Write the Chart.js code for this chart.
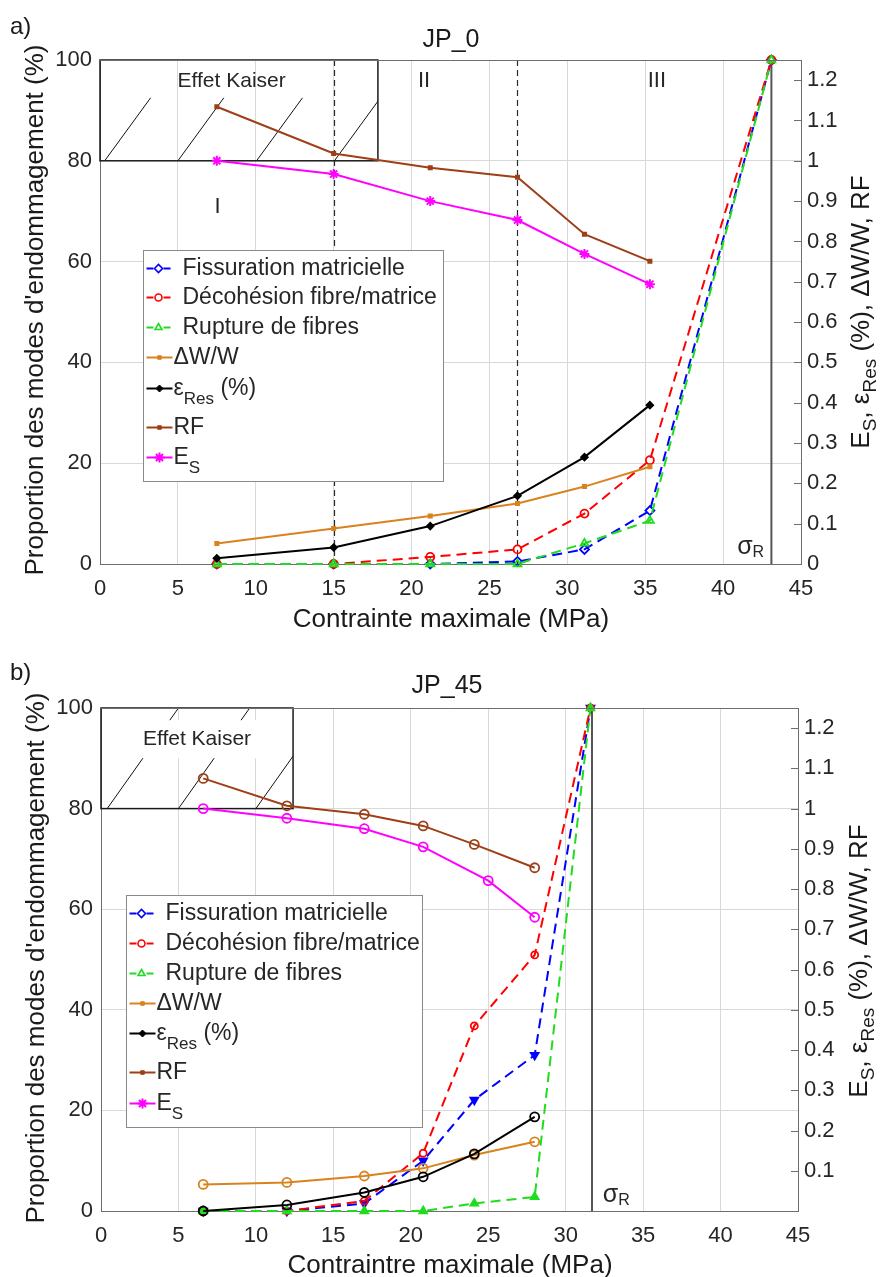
<!DOCTYPE html>
<html>
<head>
<meta charset="utf-8">
<title>JP_0 / JP_45</title>
<script src="https://cdn.jsdelivr.net/npm/chart.js@4/dist/chart.umd.min.js"></script>
<style>
	html, body { margin: 0; padding: 0; background: #ffffff; }
	.panel { position: absolute; left: 0; width: 887px; }
	#panelA { top: 0; height: 640px; }
	#panelB { top: 640px; height: 637px; }
</style>
</head>
<body>
<div class="panel" id="panelA"><canvas id="chartA"></canvas></div>
<div class="panel" id="panelB"><canvas id="chartB"></canvas></div>
<script>
(function () {
	'use strict';

	// ---- data: a) JP_0 ----
	var aStress = [7.5, 15, 21.2, 26.8, 31.1, 35.3];
	var aStressModes = [7.5, 15, 21.2, 26.8, 31.1, 35.3, 43.1];
	var aFissuration = [0, 0, 0, 0.5, 2.9, 10.6, 100];
	var aDecohesion = [0, 0, 1.4, 2.9, 10.0, 20.6, 100];
	var aRupture = [0, 0, 0, 0, 4.1, 8.6, 100];
	var aDeltaW = [0.051, 0.088, 0.119, 0.150, 0.192, 0.241];
	var aEpsRes = [0.014, 0.041, 0.094, 0.169, 0.265, 0.394];
	var aRF = [1.134, 1.018, 0.983, 0.959, 0.818, 0.751];
	var aES = [1.0, 0.967, 0.900, 0.853, 0.769, 0.694];
	var aSigmaR = 43.1;
	var aPhaseLimits = [15, 26.8];
	var aRightTicks = [0, 0.1, 0.2, 0.3, 0.4, 0.5, 0.6, 0.7, 0.8, 0.9, 1, 1.1, 1.2];

	// ---- data: b) JP_45 ----
	var bStress = [6.6, 12, 17, 20.8, 24.1, 28];
	var bStressES = [6.6, 12, 17, 20.8, 25.0, 28];
	var bStressModes = [6.6, 12, 17, 20.8, 24.1, 28, 31.6];
	var bFissuration = [0, 0, 1.5, 10, 22.1, 31.0, 100];
	var bDecohesion = [0, 0, 2.0, 11.5, 36.8, 50.9, 100];
	var bRupture = [0, 0, 0, 0, 1.5, 2.8, 100];
	var bDeltaW = [0.066, 0.071, 0.087, 0.106, 0.139, 0.172];
	var bEpsRes = [0, 0.015, 0.046, 0.085, 0.142, 0.234];
	var bRF = [1.075, 1.007, 0.986, 0.957, 0.911, 0.853];
	var bES = [1.0, 0.976, 0.950, 0.905, 0.821, 0.730];
	var bSigmaR = 31.7;
	var bRightTicks = [0.1, 0.2, 0.3, 0.4, 0.5, 0.6, 0.7, 0.8, 0.9, 1, 1.1, 1.2];

	// ---- shared axes ----
	var xTicks = [0, 5, 10, 15, 20, 25, 30, 35, 40, 45];
	var leftTicks = [0, 20, 40, 60, 80, 100];

	var FONT = '"Liberation Sans", Arial, sans-serif';
	var BLUE = '#0000ff';
	var RED = '#ff0000';
	var GREEN = '#1fdc1f';
	var ORANGE = '#d9821e';
	var BLACK = '#000000';
	var BROWN = '#9e3f17';
	var MAGENTA = '#ff00ff';
	var GRID = '#d9d9d9';
	var AXIS = '#6e6e6e';
	var TEXT = '#262626';
	var NONE = 'rgba(0,0,0,0)';

	Chart.defaults.font.family = FONT;
	Chart.defaults.color = TEXT;

	function pts(xs, ys) {
		return xs.map(function (x, i) {
			return { x: x, y: ys[i] };
		});
	}

	function dashed(label, xs, ys, color, style) {
		return Object.assign({
			label: label,
			data: pts(xs, ys),
			yAxisID: 'y',
			borderColor: color,
			borderWidth: 2,
			borderDash: [10, 6],
			pointBorderColor: color,
			pointBackgroundColor: NONE,
			pointBorderWidth: 1.8,
			pointRadius: 4.5,
			clip: 10,
		}, style);
	}

	function solid(label, xs, ys, color, style) {
		return Object.assign({
			label: label,
			data: pts(xs, ys),
			yAxisID: 'y2',
			borderColor: color,
			borderWidth: 2,
			pointBorderColor: color,
			pointBackgroundColor: color,
			pointBorderWidth: 1.5,
			pointRadius: 2.5,
			clip: 10,
		}, style);
	}

	var legendItems = [
		{ parts: [{ t: 'Fissuration matricielle' }], color: BLUE, dashed: true, marker: { pointStyle: 'rectRot', radius: 4, borderWidth: 1.6 }, fill: '#ffffff' },
		{ parts: [{ t: 'Décohésion fibre/matrice' }], color: RED, dashed: true, marker: { pointStyle: 'circle', radius: 3.5, borderWidth: 1.6 }, fill: '#ffffff' },
		{ parts: [{ t: 'Rupture de fibres' }], color: GREEN, dashed: true, marker: { pointStyle: 'triangle', radius: 4, borderWidth: 1.6 }, fill: '#ffffff' },
		{ parts: [{ t: 'ΔW/W' }], color: ORANGE, marker: { pointStyle: 'rect', radius: 2.5, borderWidth: 1 } },
		{ parts: [{ t: 'ε' }, { t: 'Res', sub: true }, { t: ' (%)' }], color: BLACK, marker: { pointStyle: 'rectRot', radius: 3.5, borderWidth: 1 } },
		{ parts: [{ t: 'RF' }], color: BROWN, marker: { pointStyle: 'rect', radius: 2.5, borderWidth: 1 } },
		{ parts: [{ t: 'E' }, { t: 'S', sub: true }], color: MAGENTA, marker: { pointStyle: 'star', radius: 5, borderWidth: 2 } },
	];

	function drawParts(ctx, parts, x, y, size, subSize, subShift, align) {
		var total = 0;
		parts.forEach(function (p) {
			ctx.font = (p.sub ? subSize : size) + 'px ' + FONT;
			p.w = ctx.measureText(p.t).width;
			total += p.w;
		});
		var cx = align === 'center' ? x - total / 2 : x;
		ctx.textAlign = 'left';
		ctx.textBaseline = 'middle';
		parts.forEach(function (p) {
			ctx.font = (p.sub ? subSize : size) + 'px ' + FONT;
			ctx.fillText(p.t, cx, p.sub ? y + subShift : y);
			cx += p.w;
		});
		return total;
	}

	function text(ctx, str, x, y, size, align) {
		ctx.font = size + 'px ' + FONT;
		ctx.textAlign = align || 'center';
		ctx.textBaseline = 'middle';
		ctx.fillText(str, x, y);
	}

	function decorPlugin(cfg) {
		return {
			id: 'decor',
			beforeDatasetsDraw: function (chart) {
				var ctx = chart.ctx;
				var xs = chart.scales.x;
				var ys = chart.scales.y;
				var area = chart.chartArea;
				var k = cfg.kaiser;

				ctx.save();
				// phase limits
				ctx.strokeStyle = '#2a2a2a';
				ctx.lineWidth = 1.2;
				ctx.setLineDash([6, 4]);
				(cfg.phases || []).forEach(function (v) {
					var px = Math.round(xs.getPixelForValue(v)) + 0.5;
					ctx.beginPath();
					ctx.moveTo(px, area.top);
					ctx.lineTo(px, area.bottom);
					ctx.stroke();
				});
				ctx.setLineDash([]);

				// sigma R
				var sx = xs.getPixelForValue(cfg.sigmaR);
				ctx.strokeStyle = '#555555';
				ctx.lineWidth = 2;
				ctx.beginPath();
				ctx.moveTo(sx, area.top);
				ctx.lineTo(sx, area.bottom);
				ctx.stroke();

				// Kaiser box with hatching
				var bx0 = xs.getPixelForValue(k.x0);
				var bx1 = xs.getPixelForValue(k.x1);
				var by0 = ys.getPixelForValue(k.y1);
				var by1 = ys.getPixelForValue(k.y0);
				ctx.save();
				ctx.beginPath();
				ctx.rect(bx0, by0, bx1 - bx0, by1 - by0);
				ctx.clip();
				ctx.strokeStyle = '#111111';
				ctx.lineWidth = 1;
				k.hatch.forEach(function (h) {
					ctx.beginPath();
					ctx.moveTo(xs.getPixelForValue(h), ys.getPixelForValue(k.y0));
					ctx.lineTo(xs.getPixelForValue(h + k.hatchDx), ys.getPixelForValue(k.hatchTop));
					ctx.stroke();
				});
				ctx.restore();

				var tx = xs.getPixelForValue(k.textX);
				var ty = ys.getPixelForValue(k.textY);
				ctx.font = k.textSize + 'px ' + FONT;
				if (k.textBg) {
					var tw = ctx.measureText(k.text).width;
					ctx.fillStyle = '#ffffff';
					ctx.fillRect(tx - tw / 2 - 6, ty - 19, tw + 12, 38);
				}
				ctx.strokeStyle = '#1a1a1a';
				ctx.lineWidth = 1.5;
				ctx.strokeRect(bx0, by0, bx1 - bx0, by1 - by0);
				ctx.fillStyle = TEXT;
				text(ctx, k.text, tx, ty, k.textSize);

				(cfg.roman || []).forEach(function (r) {
					text(ctx, r.t, xs.getPixelForValue(r.x), ys.getPixelForValue(r.y), 22);
				});
				ctx.restore();
			},
			afterDatasetsDraw: function (chart) {
				var ctx = chart.ctx;
				var xs = chart.scales.x;
				var ys = chart.scales.y;
				var lg = cfg.legend;

				ctx.save();
				// sigma R label
				ctx.fillStyle = TEXT;
				drawParts(ctx, [{ t: 'σ' }, { t: 'R', sub: true }],
					xs.getPixelForValue(cfg.sigmaLabel[0]), ys.getPixelForValue(cfg.sigmaLabel[1]),
					25, 16, 6, 'left');

				// legend
				var lx = Math.round(xs.getPixelForValue(lg.x)) + 0.5;
				var ly = Math.round(ys.getPixelForValue(lg.y)) + 0.5;
				ctx.fillStyle = '#ffffff';
				ctx.fillRect(lx, ly, lg.w, lg.h);
				ctx.strokeStyle = '#8a8a8a';
				ctx.lineWidth = 1;
				ctx.strokeRect(lx, ly, lg.w, lg.h);

				legendItems.forEach(function (item, i) {
					var ry = ly + lg.rows[i];
					ctx.strokeStyle = item.color;
					ctx.lineWidth = 2;
					ctx.beginPath();
					if (item.dashed) {
						ctx.moveTo(lx + 3, ry);
						ctx.lineTo(lx + 10, ry);
						ctx.moveTo(lx + 20, ry);
						ctx.lineTo(lx + 27, ry);
					} else {
						ctx.moveTo(lx + 3, ry);
						ctx.lineTo(lx + 29, ry);
					}
					ctx.stroke();
					ctx.fillStyle = item.fill || item.color;
					ctx.lineWidth = item.marker.borderWidth;
					Chart.helpers.drawPoint(ctx, Object.assign({ rotation: 0 }, item.marker), lx + (item.dashed ? 15 : 16), ry);
					ctx.fillStyle = TEXT;
					drawParts(ctx, item.parts, lx + (item.dashed ? 39 : 30), ry, 23, 17, 11, 'left');
				});
				ctx.restore();
			},
			afterDraw: function (chart) {
				var ctx = chart.ctx;
				var area = chart.chartArea;
				var y2 = chart.scales.y2;

				ctx.save();
				// top frame + right inner ticks
				ctx.strokeStyle = AXIS;
				ctx.lineWidth = 1;
				ctx.beginPath();
				ctx.moveTo(area.left, Math.round(area.top) + 0.5);
				ctx.lineTo(area.right, Math.round(area.top) + 0.5);
				y2.ticks.forEach(function (t) {
					var py = Math.round(y2.getPixelForValue(t.value)) + 0.5;
					ctx.moveTo(area.right - 7, py);
					ctx.lineTo(area.right, py);
				});
				ctx.stroke();

				ctx.fillStyle = '#1a1a1a';
				text(ctx, cfg.panel, 10, cfg.panelY, 24, 'left');
				text(ctx, cfg.title, cfg.titlePos[0], cfg.titlePos[1], 25);
				text(ctx, cfg.xTitle, cfg.xTitlePos[0], cfg.xTitlePos[1], 26);

				ctx.save();
				ctx.translate(cfg.yTitlePos[0], cfg.yTitlePos[1]);
				ctx.rotate(-Math.PI / 2);
				text(ctx, 'Proportion des modes d\'endommagement (%)', 0, 0, 26);
				ctx.restore();

				ctx.save();
				ctx.translate(cfg.y2TitlePos[0], cfg.y2TitlePos[1]);
				ctx.rotate(-Math.PI / 2);
				drawParts(ctx, [
					{ t: 'E' }, { t: 'S', sub: true }, { t: ', ' },
					{ t: 'ε' }, { t: 'Res', sub: true }, { t: ' (%), ΔW/W, RF' },
				], 0, 0, 26, 19, 9, 'center');
				ctx.restore();
				ctx.restore();
			},
		};
	}

	function makeChart(cfg) {
		var datasets = cfg.datasets.map(function (d, i) {
			d.order = -i;
			return d;
		});

		return new Chart(document.getElementById(cfg.canvas), {
			type: 'line',
			data: { datasets: datasets },
			options: {
				responsive: true,
				maintainAspectRatio: false,
				animation: false,
				events: [],
				layout: { padding: { top: cfg.padTop, left: 0, right: 0, bottom: 0 } },
				plugins: {
					legend: { display: false },
					tooltip: { enabled: false },
				},
				scales: {
					x: {
						type: 'linear',
						min: 0,
						max: 45,
						afterBuildTicks: function (s) {
							s.ticks = xTicks.map(function (v) { return { value: v }; });
						},
						afterFit: function (s) {
							s.height = cfg.xHeight;
						},
						grid: { color: GRID, drawTicks: false },
						border: { color: AXIS },
						ticks: { autoSkip: false, maxRotation: 0, padding: 12, color: TEXT, font: { size: 22 } },
					},
					y: {
						position: 'left',
						min: 0,
						max: 100,
						afterBuildTicks: function (s) {
							s.ticks = leftTicks.map(function (v) { return { value: v }; });
						},
						afterFit: function (s) {
							s.width = cfg.leftWidth;
						},
						grid: { color: GRID, drawTicks: false },
						border: { color: AXIS },
						ticks: { padding: 8, color: TEXT, font: { size: 22 } },
					},
					y2: {
						position: 'right',
						min: 0,
						max: 1.25,
						afterBuildTicks: function (s) {
							s.ticks = cfg.rightTicks.map(function (v) { return { value: v }; });
						},
						afterFit: function (s) {
							s.width = cfg.rightWidth;
						},
						grid: { drawOnChartArea: false, drawTicks: false },
						border: { color: AXIS },
						ticks: {
							padding: 6,
							color: TEXT,
							font: { size: 22 },
							callback: function (v) {
								return String(Math.round(v * 10) / 10);
							},
						},
					},
				},
			},
			plugins: [decorPlugin(cfg)],
		});
	}

	makeChart({
		canvas: 'chartA',
		padTop: 60,
		leftWidth: 100,
		rightWidth: 86,
		xHeight: 76,
		rightTicks: aRightTicks,
		panel: 'a)',
		panelY: 27,
		title: 'JP_0',
		titlePos: [451, 40],
		xTitle: 'Contrainte maximale (MPa)',
		xTitlePos: [451, 620],
		yTitlePos: [36, 310],
		y2TitlePos: [862, 312],
		phases: aPhaseLimits,
		sigmaR: aSigmaR,
		sigmaLabel: [40.9, 3.4],
		kaiser: {
			x0: 0, x1: 17.84, y0: 80, y1: 100,
			hatch: [0.3, 5.0, 10.05, 15.05], hatchDx: 2.95, hatchTop: 92.5,
			text: 'Effet Kaiser', textX: 8.45, textY: 95.8, textSize: 21, textBg: false,
		},
		roman: [
			{ t: 'I', x: 7.55, y: 70.9 },
			{ t: 'II', x: 20.8, y: 95.8 },
			{ t: 'III', x: 35.75, y: 95.8 },
		],
		legend: { x: 2.76, y: 62.3, w: 300, h: 231, rows: [18, 47, 77, 107, 138, 177, 207] },
		datasets: [
			dashed('Fissuration matricielle', aStressModes, aFissuration, BLUE, { pointStyle: 'rectRot' }),
			dashed('Décohésion fibre/matrice', aStressModes, aDecohesion, RED, { pointStyle: 'circle', pointRadius: 4 }),
			dashed('Rupture de fibres', aStressModes, aRupture, GREEN, { pointStyle: 'triangle' }),
			solid('ΔW/W', aStress, aDeltaW, ORANGE, { pointStyle: 'rect' }),
			solid('εRes (%)', aStress, aEpsRes, BLACK, { pointStyle: 'rectRot', pointRadius: 3.5 }),
			solid('RF', aStress, aRF, BROWN, { pointStyle: 'rect' }),
			solid('ES', aStress, aES, MAGENTA, { pointStyle: 'star', pointRadius: 5, pointBorderWidth: 2 }),
		],
	});

	var hollow = { pointStyle: 'circle', pointRadius: 4.5, pointBorderWidth: 1.8, pointBackgroundColor: NONE };

	makeChart({
		canvas: 'chartB',
		padTop: 68,
		leftWidth: 101,
		rightWidth: 89,
		xHeight: 66,
		rightTicks: bRightTicks,
		panel: 'b)',
		panelY: 33,
		title: 'JP_45',
		titlePos: [447, 46],
		xTitle: 'Contraintre maximale (MPa)',
		xTitlePos: [450, 626],
		yTitlePos: [37, 318],
		y2TitlePos: [860, 321],
		phases: [],
		sigmaR: bSigmaR,
		sigmaLabel: [32.4, 3.2],
		kaiser: {
			x0: 0, x1: 12.4, y0: 80, y1: 100,
			hatch: [0.4, 5.0, 10.0], hatchDx: 4.6, hatchTop: 100,
			text: 'Effet Kaiser', textX: 6.2, textY: 93.8, textSize: 21, textBg: true,
		},
		roman: [],
		legend: { x: 1.61, y: 62.8, w: 296, h: 232, rows: [18, 48, 78, 108, 138, 177, 208] },
		datasets: [
			dashed('Fissuration matricielle', bStressModes, bFissuration, BLUE, { pointStyle: 'triangle', rotation: 180, pointBackgroundColor: BLUE }),
			dashed('Décohésion fibre/matrice', bStressModes, bDecohesion, RED, { pointStyle: 'circle', pointRadius: 3.5 }),
			dashed('Rupture de fibres', bStressModes, bRupture, GREEN, { pointStyle: 'triangle', pointBackgroundColor: GREEN }),
			solid('ΔW/W', bStress, bDeltaW, ORANGE, hollow),
			solid('εRes (%)', bStress, bEpsRes, BLACK, hollow),
			solid('RF', bStress, bRF, BROWN, hollow),
			solid('ES', bStressES, bES, MAGENTA, hollow),
		],
	});
})();
</script>
</body>
</html>
